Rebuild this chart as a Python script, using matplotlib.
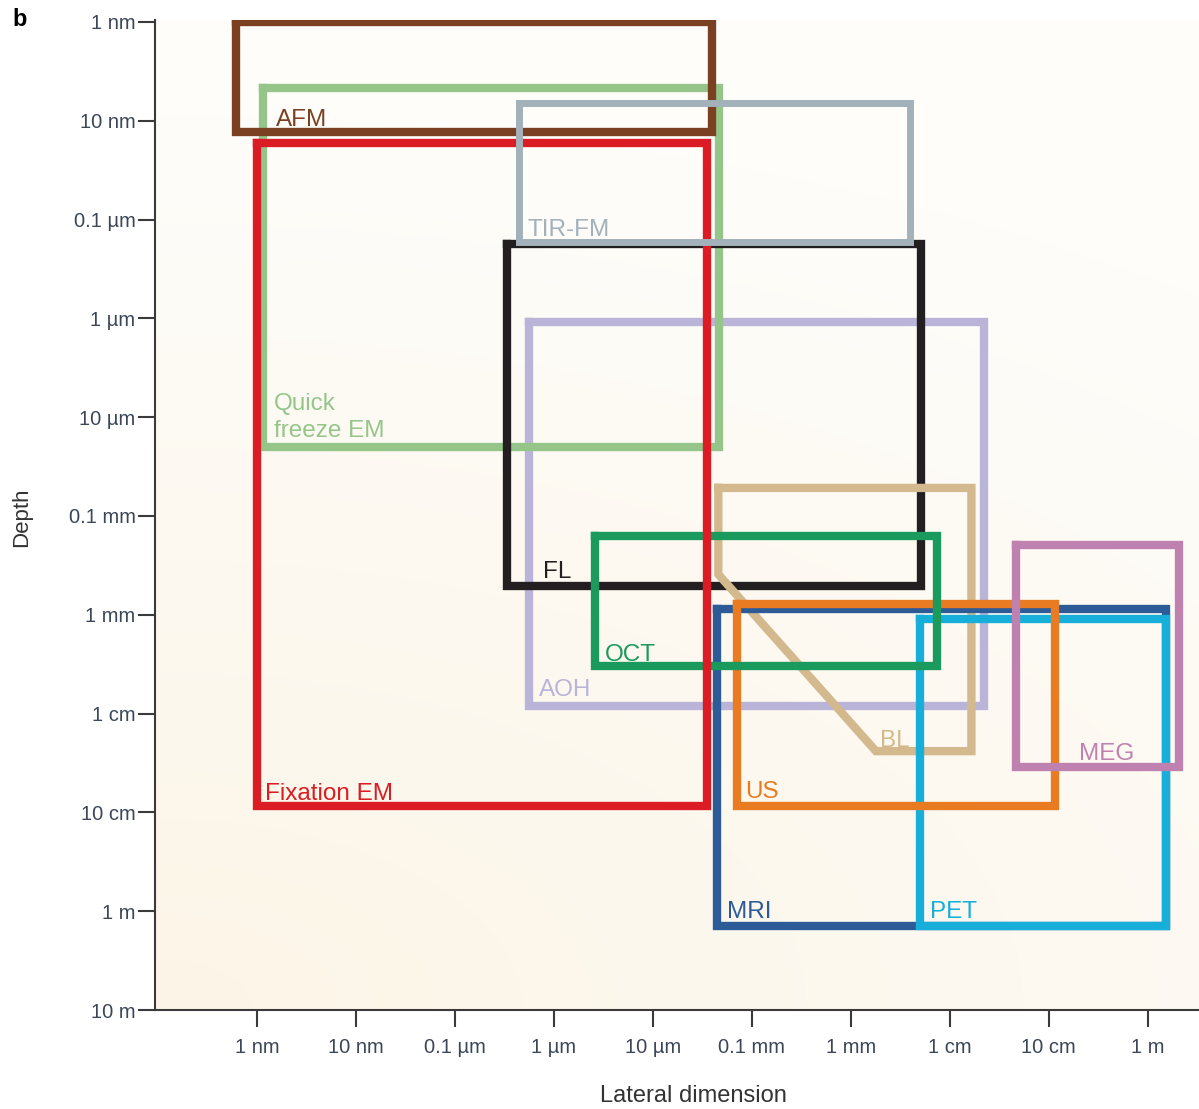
import numpy as np
import matplotlib
matplotlib.use('Agg')
import matplotlib.pyplot as plt
from matplotlib.colors import LinearSegmentedColormap

plt.rcParams['font.family'] = ['Liberation Sans', 'DejaVu Sans']

# 刻度（米）
tick_vals = [1e-9, 1e-8, 1e-7, 1e-6, 1e-5, 1e-4, 1e-3, 1e-2, 1e-1, 1.0]
tick_labels = ['1 nm', '10 nm', '0.1 µm', '1 µm', '10 µm', '0.1 mm', '1 mm', '1 cm', '10 cm', '1 m']
ytick_vals = tick_vals + [10.0]
ytick_labels = tick_labels + ['10 m']

# 各技术的范围：横向 (x0, x1)，深度 (y0, y1)，单位米
names = ['AOH', 'Quick\nfreeze EM', 'FL', 'MRI', 'PET', 'US', 'OCT',
         'Fixation EM', 'AFM', 'TIR-FM', 'MEG']
lat_min = [5.6e-7, 1.15e-9, 3.4e-7, 4.5e-5, 5.0e-3, 7.1e-5, 2.6e-6, 1.0e-9, 6.2e-10, 4.4e-7, 0.047]
lat_max = [0.022, 4.7e-5, 5.1e-3, 1.55, 1.55, 0.115, 7.4e-3, 3.5e-5, 4.0e-5, 4.0e-3, 2.1]
dep_min = [1.1e-6, 4.7e-9, 1.78e-7, 8.7e-4, 1.1e-3, 7.8e-4, 1.6e-4, 1.66e-8, 1e-9, 6.6e-9, 1.95e-4]
dep_max = [8.3e-3, 2.0e-5, 5.1e-4, 1.4, 1.4, 0.087, 3.3e-3, 0.087, 1.3e-8, 1.7e-7, 0.035]
colors = ['#b9b4d8', '#95c589', '#231f20', '#2c5b97', '#17afd9', '#e97b22',
          '#1a9a5c', '#dc1c24', '#7b3f22', '#a2b1ba', '#bf82b0']
# 标签相对左下角的偏移（像素）
label_dx = [10, 11, 36, 10, 10, 8, 10, 8, 40, 9, 63]
label_dy = [16, 29, 14, 14, 14, 14, 11, 12, 12, 12, 13]

# BL 是一个五边形
bl_x = [4.6e-5, 0.0166, 0.0166, 1.8e-3, 4.6e-5, 4.6e-5]
bl_y = [5.2e-5, 5.2e-5, 0.024, 0.024, 3.9e-4, 5.2e-5]
bl_color = '#d3b98d'

fig = plt.figure(figsize=(11.99, 11.09), dpi=100)
ax = fig.add_axes([155 / 1199, 99 / 1109, 1044 / 1199, 990 / 1109])
ax.set_xscale('log')
ax.set_yscale('log')
ax.set_xlim(10 ** -10.03, 10 ** 0.52)
ax.set_ylim(10 ** 1.0, 10 ** -9.02)

# 背景渐变：左下偏米色，右上接近白色
gx, gy = np.meshgrid(np.linspace(0, 1, 200), np.linspace(0, 1, 200))
grad = np.clip(np.sqrt((gx * 0.6) ** 2 + (gy * 1.1) ** 2) / 1.0, 0, 1)
cmap = LinearSegmentedColormap.from_list('bg', ['#fcf5e7', '#fefdfa'])
ax.imshow(grad, cmap=cmap, extent=[0, 1, 0, 1], transform=ax.transAxes,
          origin='lower', aspect='auto', zorder=0, interpolation='bicubic')

lw = 6.0
for i, n in enumerate(names):
    xs = [lat_min[i], lat_max[i], lat_max[i], lat_min[i], lat_min[i]]
    ys = [dep_min[i], dep_min[i], dep_max[i], dep_max[i], dep_min[i]]
    w = 5.0 if n == 'TIR-FM' else lw
    ax.plot(xs, ys, color=colors[i], lw=w, solid_joinstyle='miter', zorder=2 + i)
    ax.annotate(n, xy=(lat_min[i], dep_max[i]), xytext=(label_dx[i] * 0.72, label_dy[i] * 0.72),
                textcoords='offset points', ha='left', va='center', fontsize=17.5,
                color=colors[i], zorder=20, linespacing=1.3)

ax.plot(bl_x, bl_y, color=bl_color, lw=lw, solid_joinstyle='miter', zorder=4.5)
ax.annotate('BL', xy=(1.8e-3, 0.024), xytext=(4 * 0.72, 10 * 0.72),
            textcoords='offset points', ha='left', va='center', fontsize=17.5,
            color=bl_color, zorder=20)

# 坐标轴
for s in ['top', 'right']:
    ax.spines[s].set_visible(False)
for s in ['left', 'bottom']:
    ax.spines[s].set_linewidth(1.5)
    ax.spines[s].set_color('#3a3a3a')
ax.set_xticks(tick_vals)
ax.set_xticklabels(tick_labels)
ax.set_yticks(ytick_vals)
ax.set_yticklabels(ytick_labels)
ax.minorticks_off()
ax.tick_params(length=12, width=1.5, color='#3a3a3a', labelsize=14.5, labelcolor='#3b4658', pad=8)
ax.tick_params(axis='y', pad=2)

ax.set_ylabel('Depth', fontsize=16, color='#333333', va='center')
ax.set_xlabel('Lateral dimension', fontsize=17, color='#333333', va='center')
ax.yaxis.set_label_coords(-(155 - 22) / 1044, 0.498)
ax.xaxis.set_label_coords((693 - 155) / 1044, -(1096 - 1010) / 990)

fig.text(12 / 1199, 1 - 20 / 1109, 'b', fontsize=17, fontweight='bold', va='center', ha='left')

fig.savefig('out.png', dpi=100)
